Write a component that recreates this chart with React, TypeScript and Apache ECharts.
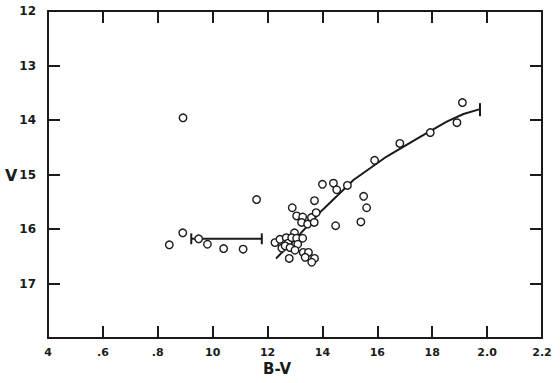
import React, { useEffect, useRef } from "react";
import * as echarts from "echarts";

const xTickLabels = ["4", ".6", ".8", "10", "12", "14", "16", "18", "2.0", "2.2"];
const yTickLabels = ["12", "13", "14", "15", "16", "17", ""];

const stars: [number, number][] = [
  [0.892, 13.96], [1.91, 13.68], [1.89, 14.05], [1.793, 14.23], [1.682, 14.43],
  [1.59, 14.74], [1.4, 15.18], [1.44, 15.16], [1.452, 15.28], [1.491, 15.2],
  [1.55, 15.4], [1.561, 15.61], [1.54, 15.87], [1.448, 15.94], [1.371, 15.48],
  [1.29, 15.61], [1.306, 15.76], [1.328, 15.78], [1.36, 15.79], [1.377, 15.7],
  [1.324, 15.88], [1.346, 15.91], [1.37, 15.88], [1.16, 15.46], [0.842, 16.29],
  [0.891, 16.07], [0.949, 16.18], [0.981, 16.28], [1.04, 16.36], [1.111, 16.37],
  [1.298, 16.07], [1.227, 16.25], [1.245, 16.19], [1.252, 16.35], [1.268, 16.16],
  [1.275, 16.26], [1.288, 16.16], [1.306, 16.17], [1.328, 16.17], [1.31, 16.28],
  [1.264, 16.31], [1.282, 16.34], [1.3, 16.39], [1.279, 16.54], [1.33, 16.43],
  [1.349, 16.43], [1.337, 16.52], [1.371, 16.54], [1.361, 16.61],
];

const sequence: [number, number][] = [
  [1.231, 16.54], [1.3, 16.19], [1.4, 15.65], [1.45, 15.41], [1.513, 15.1],
  [1.634, 14.67], [1.756, 14.31], [1.853, 14.03], [1.914, 13.89], [1.974, 13.8],
];
const sequenceCap: [number, number][] = [[1.974, 13.69], [1.974, 13.93]];

const branch: [number, number][] = [[0.922, 16.18], [1.179, 16.18]];
const branchCapLeft: [number, number][] = [[0.922, 16.08], [0.922, 16.28]];
const branchCapRight: [number, number][] = [[1.179, 16.08], [1.179, 16.28]];

const INK = "#1a1a1a";

export default function App() {
  const ref = useRef<HTMLDivElement>(null);
  useEffect(() => {
    if (!ref.current) return;
    const chart = echarts.init(ref.current, undefined, { renderer: "svg" });
    const lineSeries = (data: [number, number][], w = 2) => ({
      type: "line",
      data,
      showSymbol: false,
      symbol: "none",
      lineStyle: { color: INK, width: w },
      silent: true,
      z: 2,
    });
    const xCommon = {
      type: "value",
      min: 0.4,
      max: 2.2,
      interval: 0.2,
      splitLine: { show: false },
      axisLine: { show: true, lineStyle: { color: INK, width: 2 } },
      axisTick: { show: true, inside: true, length: 12, lineStyle: { color: INK, width: 2 } },
    };
    const yCommon = {
      type: "value",
      min: 12,
      max: 18,
      interval: 1,
      inverse: true,
      splitLine: { show: false },
      axisLine: { show: true, lineStyle: { color: INK, width: 2 } },
      axisTick: { show: true, inside: true, length: 12, lineStyle: { color: INK, width: 2 } },
    };
    chart.setOption({
      animation: false,
      backgroundColor: "#ffffff",
      grid: { left: 48, top: 11, right: 18, bottom: 45, containLabel: false },
      xAxis: [
        {
          ...xCommon,
          position: "bottom",
          axisLabel: {
            show: true,
            margin: 9,
            color: INK,
            fontSize: 11,
            fontWeight: "bold",
            fontFamily: "DejaVu Sans",
            formatter: (v: number) => xTickLabels[Math.round((v - 0.4) / 0.2)] ?? "",
          },
        },
        { ...xCommon, position: "top", axisLabel: { show: false } },
      ],
      yAxis: [
        {
          ...yCommon,
          position: "left",
          axisLabel: {
            show: true,
            margin: 12,
            color: INK,
            fontSize: 12,
            fontWeight: "bold",
            fontFamily: "DejaVu Sans",
            formatter: (v: number) => yTickLabels[Math.round(v - 12)] ?? "",
          },
        },
        { ...yCommon, position: "right", axisLabel: { show: false } },
      ],
      graphic: [
        {
          type: "text",
          left: 5,
          top: 167,
          style: { text: "V", fontSize: 16, fontWeight: "bold", fill: INK, fontFamily: "DejaVu Sans" },
        },
        {
          type: "text",
          left: 263,
          top: 361,
          style: { text: "B-V", fontSize: 15, fontWeight: "bold", fill: INK, fontFamily: "DejaVu Sans" },
        },
      ],
      series: [
        lineSeries(sequence, 2),
        lineSeries(sequenceCap, 2),
        lineSeries(branch, 2),
        lineSeries(branchCapLeft, 2),
        lineSeries(branchCapRight, 2),
        {
          type: "scatter",
          data: stars,
          symbol: "circle",
          symbolSize: 7.5,
          itemStyle: { color: "#ffffff", borderColor: INK, borderWidth: 1.4, opacity: 1 },
          z: 3,
          silent: true,
        },
      ],
    });
    return () => chart.dispose();
  }, []);
  return (
    <div
      ref={ref}
      style={{ position: "fixed", left: 0, top: 0, width: 560, height: 383, background: "#fff" }}
    />
  );
}
